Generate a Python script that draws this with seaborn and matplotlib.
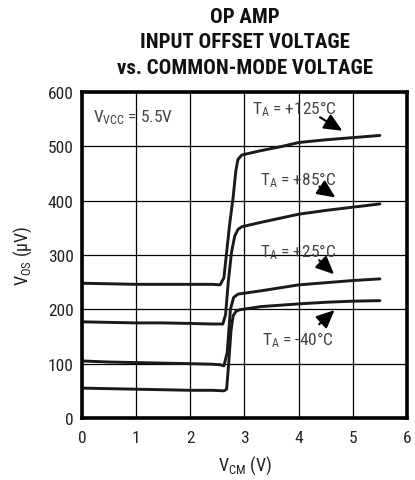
import numpy as np
import pandas as pd
import matplotlib
matplotlib.use("Agg")
import matplotlib.pyplot as plt
import seaborn as sns

# curves (V_CM in V, V_OS in uV)
vcm_125 = [0, 0.5, 1.0, 1.5, 2.0, 2.4, 2.55, 2.62, 2.67, 2.73, 2.79, 2.84, 2.88, 2.95, 3.3, 3.7, 4.0, 4.5, 5.0, 5.5]
vos_125 = [248, 247, 246, 246, 246, 246, 245, 258, 305, 360, 406, 455, 476, 484, 492, 500, 507, 512, 516, 520]

vcm_85 = [0, 0.5, 1.0, 1.5, 2.0, 2.4, 2.6, 2.65, 2.7, 2.76, 2.82, 2.88, 2.95, 3.3, 4.0, 4.5, 5.0, 5.5]
vos_85 = [177, 176, 175, 175, 174, 173, 173, 190, 250, 305, 335, 347, 352, 360, 375, 382, 388, 394]

vcm_25 = [0, 0.5, 1.0, 1.5, 2.0, 2.4, 2.55, 2.62, 2.68, 2.74, 2.8, 2.88, 3.3, 4.0, 4.5, 5.0, 5.5]
vos_25 = [105, 103, 102, 101, 100, 99, 98, 96, 120, 200, 222, 228, 234, 245, 249, 253, 256]

vcm_m40 = [0, 0.5, 1.0, 1.5, 2.0, 2.4, 2.62, 2.67, 2.71, 2.75, 2.79, 2.84, 2.9, 3.3, 4.0, 4.5, 5.0, 5.5]
vos_m40 = [55, 54, 53, 52, 51, 51, 50, 53, 103, 160, 188, 196, 199, 205, 210, 213, 215, 216]

temps = ["+125", "+85", "+25", "-40"]
x_ticks = [0, 1, 2, 3, 4, 5, 6]
y_ticks = [0, 100, 200, 300, 400, 500, 600]

df = pd.concat([
    pd.DataFrame({"vcm": vcm_125, "vos": vos_125, "temp": "+125"}),
    pd.DataFrame({"vcm": vcm_85, "vos": vos_85, "temp": "+85"}),
    pd.DataFrame({"vcm": vcm_25, "vos": vos_25, "temp": "+25"}),
    pd.DataFrame({"vcm": vcm_m40, "vos": vos_m40, "temp": "-40"}),
], ignore_index=True)

sns.set_style("white")
narrow = ["Roboto Condensed", "Roboto", "DejaVu Sans"]
plt.rcParams["font.family"] = narrow
plt.rcParams["mathtext.fontset"] = "custom"
plt.rcParams["mathtext.rm"] = "Roboto Condensed"
plt.rcParams["mathtext.it"] = "Roboto Condensed:italic"

fig = plt.figure(figsize=(4.15, 4.81), dpi=100)
ax = fig.add_axes([0.1976, 0.1289, 0.7831, 0.6778])

sns.lineplot(data=df, x="vcm", y="vos", hue="temp", units="temp", estimator=None,
             sort=False, palette=["#1a1a1a"] * 4, linewidth=2.1, legend=False, ax=ax)

ax.set_xlim(0, 6)
ax.set_ylim(0, 600)
ax.set_xticks(x_ticks)
ax.set_yticks(y_ticks)
ax.grid(True, color="black", linewidth=0.9)
for s in ax.spines.values():
    s.set_linewidth(2.6)
    s.set_color("black")
ax.tick_params(axis="both", length=3, width=1, color="black", labelsize=12.5, labelcolor="#222222")
ax.tick_params(axis="x", pad=6)
ax.tick_params(axis="y", pad=3)

ax.set_xlabel(r"V$_\mathrm{CM}$ (V)", fontsize=13, color="#222222")
ax.set_ylabel(r"V$_\mathrm{OS}$ ($\mathrm{\mu}$V)", fontsize=13, color="#222222")
ax.xaxis.set_label_coords(0.5, -0.108)
ax.yaxis.set_label_coords(-0.148, 0.5)

fig.text(0.59, 0.983, "OP AMP\nINPUT OFFSET VOLTAGE\nvs. COMMON-MODE VOLTAGE",
         ha="center", va="top", fontsize=15, fontweight="bold", linespacing=1.42,
         color="#111111")

lab = dict(fontsize=12.5, color="#444444", va="center", ha="left")
ax.text(0.2, 554, r"V$_\mathrm{VCC}$ = 5.5V", **lab)
ax.text(3.14, 571, r"T$_\mathrm{A}$ = +125°C", **lab)
ax.text(3.28, 440, r"T$_\mathrm{A}$ = +85°C", **lab)
ax.text(3.28, 307, r"T$_\mathrm{A}$ = +25°C", **lab)
ax.text(3.32, 145, r"T$_\mathrm{A}$ = -40°C", **lab)

arrow = dict(arrowstyle="-|>,head_length=1.1,head_width=0.5", color="black", lw=1.5)
ax.annotate("", xy=(4.85, 526), xytext=(4.35, 556), arrowprops=arrow)
ax.annotate("", xy=(4.72, 403), xytext=(4.34, 429), arrowprops=arrow)
ax.annotate("", xy=(4.69, 261), xytext=(4.34, 294), arrowprops=arrow)
ax.annotate("", xy=(4.70, 202), xytext=(4.34, 169), arrowprops=arrow)

fig.savefig("out.png", dpi=100)
